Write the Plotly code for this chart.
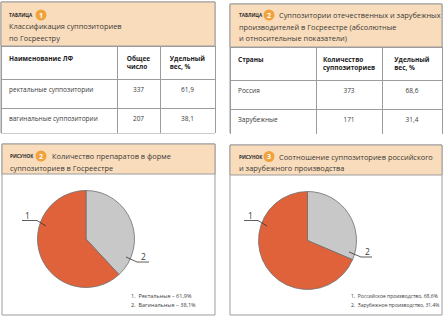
import plotly.graph_objects as go

# ---------------- data ----------------
table1_title = ["Классификация суппозиториев", "по Госреестру"]
table1_header = ["Наименование ЛФ", "Общее<br>число", "Удельный<br>вес, %"]
forms = ["ректальные суппозитории", "вагинальные суппозитории"]
form_counts = [337, 207]
form_share = [61.9, 38.1]

table2_title = ["Суппозитории отечественных и зарубежных",
                "производителей в Госреестре (абсолютные",
                "и относительные показатели)"]
table2_header = ["Страны", "Количество<br>суппозиториев", "Удельный<br>вес, %"]
origins = ["Россия", "Зарубежные"]
origin_counts = [373, 171]
origin_share = [68.6, 31.4]

fig3_title = ["Количество препаратов в форме", "суппозиториев в Госреестре"]
fig3_names = ["Ректальные", "Вагинальные"]
fig3_share = [61.9, 38.1]

fig4_title = ["Соотношение суппозиториев российского", "и зарубежного производства"]
fig4_names = ["Российское производство", "Зарубежное производство"]
fig4_share = [68.6, 31.4]

# ---------------- styling ----------------
W, H = 444, 320
FONT = "Open Sans"
TXT = "#3a3a3a"
PEACH = "#F9DCBB"
BADGE = "#F0A23C"
BORDER = "#9c9c9c"
ORANGE = "#E0623A"
GRAY = "#C8C8C8"
TITLE_SIZE = 7.4


def X(p):
    return p / W


def Y(p):
    return 1 - p / H


def fmt(v):
    return f"{v:.1f}".replace(".", ",")


fig = go.Figure()
shapes = []
ann = []


def text(x, y, s, size=8, color=TXT, xanchor="left", bold=False):
    ann.append(dict(x=X(x), y=Y(y), xref="paper", yref="paper", text=f"<b>{s}</b>" if bold else s,
                    showarrow=False, xanchor=xanchor, yanchor="middle",
                    font=dict(family=FONT, size=size, color=color)))


def panel(x0, y0, x1, y1, hy, kind, num, bx, lines, first_x, line_y):
    shapes.append(dict(type="rect", xref="paper", yref="paper", x0=X(x0), x1=X(x1), y0=Y(y1), y1=Y(y0),
                       fillcolor="white", line=dict(color=BORDER, width=1), layer="below"))
    shapes.append(dict(type="rect", xref="paper", yref="paper", x0=X(x0), x1=X(x1), y0=Y(hy), y1=Y(y0),
                       fillcolor=PEACH, line=dict(color=BORDER, width=1), layer="below"))
    lx = x0 + 6 if x0 < 100 else x0 + 7
    text(lx, line_y[0], kind, size=4.7, bold=True, color="#2b2b2b")
    r = 5.5
    shapes.append(dict(type="circle", xref="paper", yref="paper", x0=X(bx - r), x1=X(bx + r),
                       y0=Y(line_y[0] + r), y1=Y(line_y[0] - r), fillcolor=BADGE, line=dict(width=0)))
    text(bx, line_y[0], str(num), size=7, color="white", xanchor="center", bold=True)
    for i, s in enumerate(lines):
        if i == 0 and first_x is not None:
            text(first_x, line_y[0], s, size=TITLE_SIZE)
        else:
            idx = i if first_x is not None else i + 1
            text(lx, line_y[idx], s, size=TITLE_SIZE)


# panels
panel(1, 2, 215, 133, 46, "ТАБЛИЦА", 1, 41, table1_title, None, [15, 26, 38])
panel(230, 4, 442, 133, 47, "ТАБЛИЦА", 2, 269, table2_title, 277, [15, 27, 38])
panel(2, 144, 215, 315, 174, "РИСУНОК", 2, 41, fig3_title, 50, [156, 167.5])
panel(230, 145, 442, 315, 175, "РИСУНОК", 3, 269, fig4_title, 277, [156.5, 168])


def add_table(x0, x1, y0, y1, header, names, counts, shares, widths):
    fig.add_trace(go.Table(
        domain=dict(x=[X(x0), X(x1)], y=[Y(y1), Y(y0)]),
        columnwidth=widths,
        header=dict(values=[f"<b>{h}</b>" for h in header],
                    align=["left", "center", "center"],
                    fill_color="white", line=dict(color=BORDER, width=1),
                    font=dict(family=FONT, size=6.5, color="#222"), height=28),
        cells=dict(values=[names, [str(c) for c in counts], [fmt(s) for s in shares]],
                   align=["left", "center", "center"],
                   fill_color="white", line=dict(color=BORDER, width=1),
                   font=dict(family=FONT, size=6.5, color=TXT), height=29),
    ))


add_table(1, 215, 46, 134, table1_header, forms, form_counts, form_share, [116, 43, 55])
add_table(230, 442, 47, 134, table2_header, origins, origin_counts, origin_share, [86, 66, 60])


def add_pie(cx, cy, r, shares):
    # slice 2 (grey) starts at 12 o'clock and runs clockwise, slice 1 (orange) fills the rest
    fig.add_trace(go.Pie(
        values=shares[::-1], labels=["2", "1"], sort=False, direction="clockwise", rotation=0,
        marker=dict(colors=[GRAY, ORANGE], line=dict(color="#6f6f6f", width=0.8)),
        textinfo="none", showlegend=False, hole=0,
        domain=dict(x=[X(cx - r), X(cx + r)], y=[Y(cy + r), Y(cy - r)]),
    ))


add_pie(86, 239, 48.5, fig3_share)
add_pie(307.5, 240.5, 49, fig4_share)


def leader(pts):
    path = "M " + " L ".join(f"{X(a)},{Y(b)}" for a, b in pts)
    shapes.append(dict(type="path", xref="paper", yref="paper", path=path,
                       line=dict(color="#333", width=0.8)))


leader([(22, 220.5), (37, 220.5), (46, 226)])
text(28, 215, "1", size=8.5, xanchor="center")
leader([(126, 257), (137, 262), (149, 262)])
text(143, 256, "2", size=8.5, xanchor="center")

leader([(244, 220.5), (258, 220.5), (267, 226)])
text(250, 215, "1", size=8.5, xanchor="center")
leader([(349, 252), (361, 257), (372, 257)])
text(367, 251.5, "2", size=8.5, xanchor="center")

# legends
for i, (n, s) in enumerate(zip(fig3_names, fig3_share)):
    text(129, 296 + 9 * i, f"{i + 1}.&nbsp;&nbsp;{n} – {fmt(s)}%", size=5.5)
for i, (n, s) in enumerate(zip(fig4_names, fig4_share)):
    text(349, 296 + 9 * i, f"{i + 1}.&nbsp;&nbsp;{n}, {fmt(s)}%", size=5)

fig.update_layout(width=W, height=H, margin=dict(l=0, r=0, t=0, b=0),
                  paper_bgcolor="white", plot_bgcolor="white",
                  shapes=shapes, annotations=ann, showlegend=False)

fig.write_html("out.html")
